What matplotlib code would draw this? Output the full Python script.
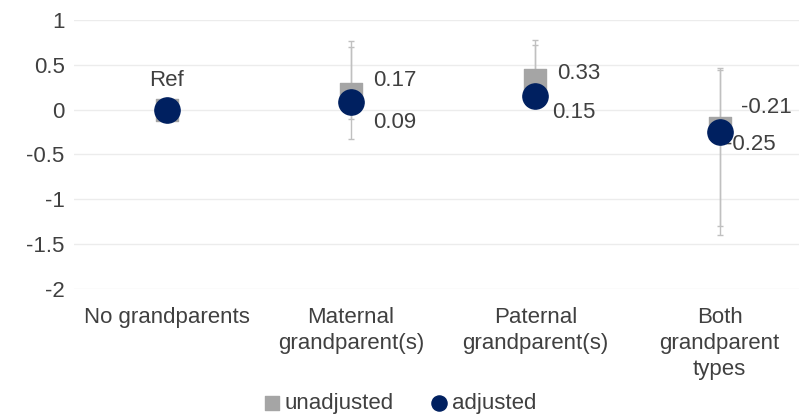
import matplotlib.pyplot as plt
import numpy as np

plt.rcParams['font.family'] = ['Liberation Sans', 'DejaVu Sans']

categories = ["No grandparents", "Maternal\ngrandparent(s)",
              "Paternal\ngrandparent(s)", "Both\ngrandparent\ntypes"]
unadjusted = [0, 0.17, 0.33, -0.21]
adjusted = [0, 0.09, 0.15, -0.25]
unadj_low = [0, -0.33, 0.25, -1.40]
unadj_high = [0, 0.77, 0.78, 0.46]
adj_low = [0, -0.10, 0.10, -1.30]
adj_high = [0, 0.70, 0.72, 0.44]
unadj_labels = ["", "0.17", "0.33", "-0.21"]
adj_labels = ["Ref", "0.09", "0.15", "-0.25"]

GRAY = "#a5a5a5"
NAVY = "#002060"
TEXT = "#404040"
FS = 16

fig = plt.figure(figsize=(7.99, 4.17), dpi=100)
ax = fig.add_axes([0.093, 0.307, 0.907, 0.645])

x = np.arange(len(categories))

# error bars (reference group has none)
for i in x[1:]:
    ax.errorbar(i, unadjusted[i],
                yerr=[[unadjusted[i] - unadj_low[i]], [unadj_high[i] - unadjusted[i]]],
                fmt="none", ecolor="#c0c0c0", elinewidth=1, capsize=2.5, zorder=2)
    ax.errorbar(i, adjusted[i],
                yerr=[[adjusted[i] - adj_low[i]], [adj_high[i] - adjusted[i]]],
                fmt="none", ecolor="#c0c0c0", elinewidth=1, capsize=2.5, zorder=2)

ax.scatter(x, unadjusted, marker="s", s=250, color=GRAY, zorder=3, label="unadjusted")
ax.scatter(x, adjusted, marker="o", s=330, color=NAVY, zorder=4, label="adjusted")

# value labels, offsets in points
unadj_off = [(0, 0), (16, 10), (16, 5), (15, 15)]
adj_off = [(0, 21), (16, -15), (12, -12), (4, -9)]
for i in x:
    if unadj_labels[i]:
        ax.annotate(unadj_labels[i], (i, unadjusted[i]), xytext=unadj_off[i],
                    textcoords="offset points", ha="left", va="center",
                    fontsize=FS, color=TEXT)
    ha = "center" if i == 0 else "left"
    ax.annotate(adj_labels[i], (i, adjusted[i]), xytext=adj_off[i],
                textcoords="offset points", ha=ha, va="center",
                fontsize=FS, color=TEXT)

ax.set_ylim(-2, 1)
ax.set_xlim(-0.5, 3.43)
ax.set_yticks(np.arange(-2, 1.01, 0.5))
ax.set_yticklabels(["-2", "-1.5", "-1", "-0.5", "0", "0.5", "1"])
ax.set_xticks(x)
ax.set_xticklabels(categories, linespacing=1.3)
ax.tick_params(axis="both", length=0, labelsize=FS, labelcolor=TEXT)
ax.tick_params(axis="x", pad=13)
ax.tick_params(axis="y", pad=7)
ax.yaxis.grid(True, color="#ececec", linewidth=1)
ax.set_axisbelow(True)
for s in ax.spines.values():
    s.set_visible(False)

fig.legend(loc="center", bbox_to_anchor=(0.5, 0.033), ncol=2, frameon=False,
           fontsize=FS, labelcolor=TEXT, handlelength=0.8, handletextpad=0.2,
           columnspacing=1.6, markerscale=0.6, borderaxespad=0)

fig.savefig("out.png", dpi=100)
